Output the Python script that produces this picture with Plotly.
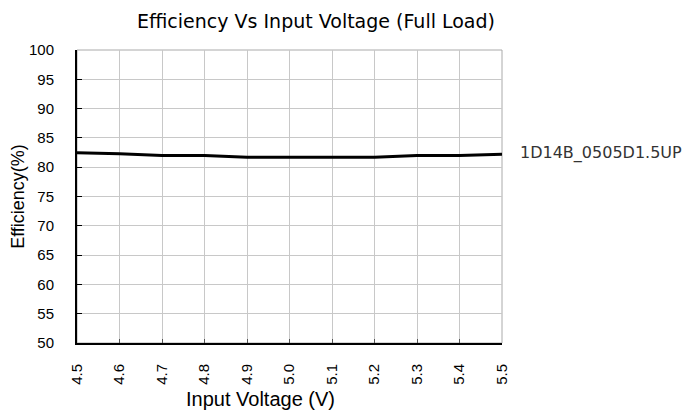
import plotly.graph_objects as go

voltage = [4.5, 4.6, 4.7, 4.8, 4.9, 5.0, 5.1, 5.2, 5.3, 5.4, 5.5]
efficiency = [82.45, 82.3, 82.0, 82.0, 81.7, 81.7, 81.7, 81.7, 82.0, 82.0, 82.2]
series_name = "1D14B_0505D1.5UP"
x_ticks = ["4.5", "4.6", "4.7", "4.8", "4.9", "5.0", "5.1", "5.2", "5.3", "5.4", "5.5"]
y_ticks = [50, 55, 60, 65, 70, 75, 80, 85, 90, 95, 100]

fig = go.Figure()
fig.add_trace(go.Scatter(x=voltage, y=efficiency, mode="lines", name=series_name,
                         line=dict(color="black", width=3), showlegend=False))

fig.add_annotation(x=1, xref="paper", xanchor="left", xshift=16,
                   y=efficiency[0], yref="y", yanchor="middle",
                   text=series_name, showarrow=False,
                   font=dict(family="DejaVu Sans", size=16, color="#333"))

fig.add_annotation(x=(260 - 77) / (502 - 77), xref="paper", xanchor="center",
                   y=0, yref="paper", yanchor="middle", yshift=-(399 - 343),
                   text="Input Voltage (V)", showarrow=False,
                   font=dict(family="Liberation Sans, Arial", size=20, color="black"))

fig.update_layout(
    width=698, height=412,
    margin=dict(l=69, r=204, t=42, b=77),
    paper_bgcolor="white", plot_bgcolor="white",
    title=dict(text="Efficiency Vs Input Voltage (Full Load)", x=(316 - 8) / 698, xanchor="center",
               y=1 - (21 - 8) / 412, yanchor="middle",
               font=dict(family="DejaVu Sans, Liberation Sans", size=19, color="black")),
    font=dict(family="Liberation Sans, Arial", color="black"),
)
fig.update_xaxes(range=[4.5, 5.5], tickvals=voltage, ticktext=x_ticks, tickangle=-90,
                 showgrid=True, gridcolor="#c8c8c8", gridwidth=1,
                 showline=True, linecolor="black", linewidth=2,
                 ticks="inside", ticklen=4, tickcolor="#555", automargin=False,
                 tickfont=dict(size=15), zeroline=False, ticklabelstandoff=13)
fig.update_yaxes(range=[50, 100], tickvals=y_ticks, showgrid=True, gridcolor="#c8c8c8", gridwidth=1,
                 showline=True, linecolor="black", linewidth=2,
                 ticks="inside", ticklen=5, tickcolor="black", automargin=False,
                 tickfont=dict(size=15), zeroline=False, ticklabelstandoff=18,
                 title=dict(text="Efficiency(%)", font=dict(size=18), standoff=0))

fig.add_shape(type="rect", xref="paper", yref="paper", x0=0, x1=1, y0=0, y1=1,
              line=dict(color="#aaaaaa", width=1), layer="below")

fig.write_html("out.html")
